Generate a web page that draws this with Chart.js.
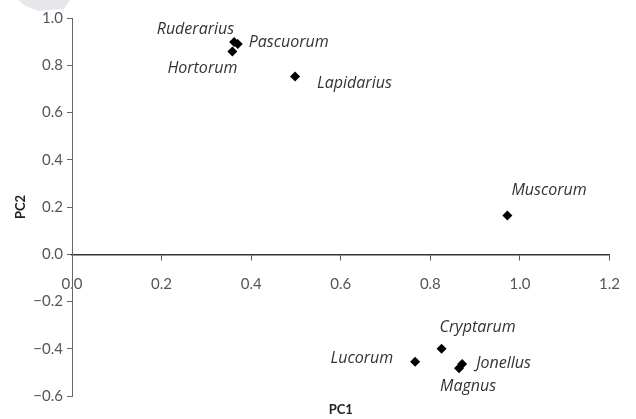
<!DOCTYPE html>
<html>
<head>
<meta charset="utf-8">
<script src="https://cdn.jsdelivr.net/npm/chart.js@4/dist/chart.umd.min.js"></script>
<style>
  body { margin: 0; background: #fff; }
  .wrap { position: relative; width: 636px; height: 419px; }
  .mark { position: absolute; left: 18px; top: 0; width: 52px; height: 11px; background: #e6e7ea;
          clip-path: polygon(0 0, 100% 0, 88% 80%, 40% 100%, 15% 55%); }
  canvas { position: relative; }
</style>
</head>
<body>
<div class="wrap">
  <div class="mark"></div>
  <canvas id="myChart" width="636" height="419"></canvas>
</div>
<script>
// データ
const species = ['Ruderarius', 'Pascuorum', 'Hortorum', 'Lapidarius', 'Muscorum', 'Cryptarum', 'Lucorum', 'Jonellus', 'Magnus'];
const pc1 = [0.362, 0.370, 0.358, 0.498, 0.972, 0.825, 0.766, 0.871, 0.864];
const pc2 = [0.898, 0.890, 0.858, 0.752, 0.164, -0.400, -0.455, -0.465, -0.483];
const xTicks = [0, 0.2, 0.4, 0.6, 0.8, 1.0, 1.2];
const yTicks = [-0.6, -0.4, -0.2, 0, 0.2, 0.4, 0.6, 0.8, 1.0];

// ラベルの位置 (dx, dy, 揃え)
const labelPos = [
  [0, -13, 'right'],
  [11, -2, 'left'],
  [5, 17, 'right'],
  [22, 7, 'left'],
  [4, -25, 'left'],
  [-2, -21, 'left'],
  [-22, -3, 'right'],
  [14, -1, 'left'],
  [-19, 18, 'left'],
];

const fmt = (v) => v.toFixed(1).replace('-', '\u2212');

// 点の名前と軸タイトル
const pointLabels = {
  id: 'pointLabels',
  afterDatasetsDraw(chart) {
    const c = chart.ctx;
    const meta = chart.getDatasetMeta(0);
    c.save();
    c.fillStyle = '#333';
    c.font = 'italic 16px "Open Sans"';
    c.textBaseline = 'middle';
    meta.data.forEach((pt, i) => {
      const p = labelPos[i];
      c.textAlign = p[2];
      c.fillText(species[i], pt.x + p[0], pt.y + p[1]);
    });
    const a = chart.chartArea;
    c.font = 'bold 13px Lato';
    c.fillStyle = '#222';
    c.textAlign = 'center';
    c.fillText('PC1', (a.left + a.right) / 2, 410);
    c.restore();
  }
};

var ctx = document.getElementById('myChart').getContext('2d');
new Chart(ctx, {
  type: 'scatter',
  data: {
    datasets: [{
      data: pc1.map((x, i) => ({ x: x, y: pc2[i] })),
      pointStyle: 'rectRot',
      pointRadius: 5,
      pointHoverRadius: 5,
      backgroundColor: '#000',
      borderColor: '#000',
      borderWidth: 0,
    }]
  },
  options: {
    responsive: false,
    animation: false,
    layout: {
      padding: { left: 0, top: 18, right: 24, bottom: 23 }
    },
    scales: {
      x: {
        type: 'linear',
        position: { y: 0 },
        min: 0,
        max: 1.2,
        afterBuildTicks: (scale) => { scale.ticks = xTicks.map(v => ({ value: v })); },
        grid: { drawOnChartArea: false, tickLength: 5, color: '#555' },
        border: { color: '#333', width: 1.5 },
        ticks: {
          padding: 16,
          color: '#555',
          font: { family: 'Lato', size: 15 },
          maxRotation: 0,
          callback: (v) => fmt(v),
        },
      },
      y: {
        min: -0.6,
        max: 1.0,
        afterBuildTicks: (scale) => { scale.ticks = yTicks.map(v => ({ value: v })); },
        afterFit: (scale) => { scale.width = 72; },
        grid: { drawOnChartArea: false, tickLength: 5, color: '#666' },
        border: { color: '#666', width: 1 },
        ticks: {
          padding: 4,
          color: '#555',
          font: { family: 'Lato', size: 15 },
          callback: (v) => fmt(v),
        },
        title: {
          display: true,
          text: 'PC2',
          color: '#222',
          font: { family: 'Lato', size: 13, weight: 'bold' },
          padding: { top: 13 },
        },
      },
    },
    plugins: {
      legend: { display: false },
      tooltip: { enabled: false },
    },
  },
  plugins: [pointLabels],
});
</script>
</body>
</html>
